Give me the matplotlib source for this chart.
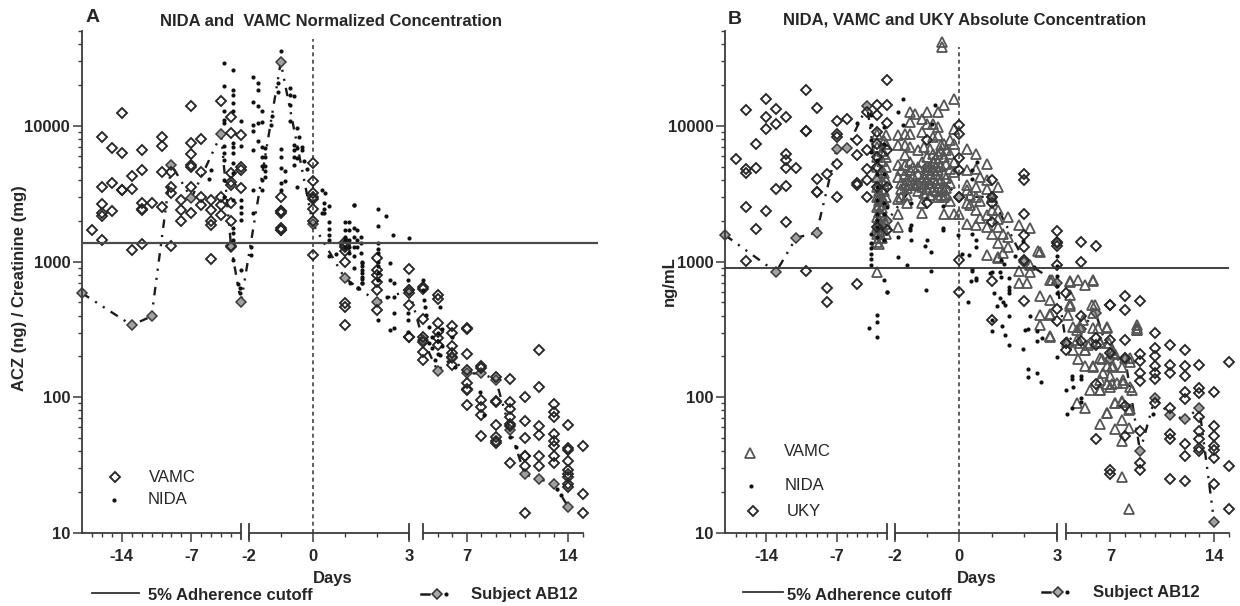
import numpy as np
import matplotlib
matplotlib.use("Agg")
import matplotlib.pyplot as plt
from matplotlib.lines import Line2D
from matplotlib.ticker import FixedLocator, FixedFormatter, LogLocator, NullFormatter

plt.rcParams['font.family'] = ['Liberation Sans', 'DejaVu Sans']
W, H = 1240, 606
INK = '#262626'
AXC = '#3c3c3c'

# ---------- Panel A data ----------
a_vamc_days = [-17, -16, -15, -14, -13, -12, -11, -10, -9, -8, -7, -6, -5, -4, -3, -2, -1, 0, 1, 2, 3, 4, 5, 6, 7, 8, 9, 10, 11, 12, 13, 14, 15]
a_vamc_vals = [
    [1710], [8250, 3530, 2660, 2270, 2150, 1430], [6920, 3820, 2340], [12400, 6300, 3370, 3370],
    [4240, 3410, 1220], [6650, 4740, 2690, 2430, 2400, 1340], [2690], [8250, 7050, 4550, 2510],
    [4600, 3570, 3190, 1300], [2850, 2400, 2000], [13900, 7450, 6220, 5160, 5010, 3570, 2270],
    [8020, 4550, 3010, 2620], [2850, 2400, 2000, 1860, 1050], [15300, 3010, 2620, 2210],
    [11700, 8930, 4480, 3890, 3670, 2690, 2000, 1300], [8580, 5010, 4740, 3470],
    [3010, 2340, 2340, 2270, 1760, 1710, 1700],
    [5310, 3900, 3200, 3000, 2900, 2430, 2000, 1120],
    [1400, 1326, 1280, 1200, 1000, 493, 461, 341], [1058, 868, 800, 712, 618, 440],
    [878, 618, 584, 479, 280, 277], [654, 625, 376, 280, 257, 217, 188],
    [568, 528, 351, 305, 272, 243], [335, 300, 239, 211, 199, 173],
    [322, 317, 208, 159, 127, 116, 113, 88], [171, 163, 96, 85, 74, 52],
    [142, 94, 93, 62, 51, 48, 46], [137, 93, 82, 71, 64, 61, 33],
    [101, 67, 50, 37, 37, 31, 14], [223, 119, 61, 53, 37, 31], [89, 78, 72, 54, 48, 44, 37, 33],
    [62, 42, 41, 34, 29, 27, 26, 23, 22], [44, 19.5, 14]]
a_nida_days = [-5.25, -5.05, -3.75, -2.8, -2, -2.3, -2.15, -1.93, -1.85, -1.72, -1.6, -1.48, -1.31, -1.26, -1.09, -1.0, -0.86, -0.72, -0.7, -0.6, -0.5, -0.42, -0.34, -0.26, -0.18, 0.29, 0.36, 0.39, 0.52, 0.72, 1.0, 1.14, 1.17, 1.27, 1.28, 1.38, 1.41, 1.5, 1.52, 2.03, 2.27, 2.3, 2.4, 2.5, 2.53, 2.97, 3.0, 4.0, 4.05, 4.12, 4.2, 4.4, 4.6, 4.83, 5.0, 5.17, 5.3, 6.0, 6.2, 7.9, 8.2, 9.97, 10.38, 13.2, 13.5]
a_nida_vals = [
    [4060], [4740], [29000, 19800, 12800, 11100, 10500, 7120, 6290, 5620, 4000, 3010],
    [25900, 18400, 16900, 14700, 12800, 7450, 7040, 6290, 5310, 4480, 2850, 1760, 1620, 1450, 1020],
    [10800, 7120, 2850, 2540, 2270, 2030, 870], [680], [590, 640], [1290, 1120],
    [22800, 15100, 10200, 9100, 6650, 3370, 2270], [20600, 18400, 13900, 10500, 7670],
    [12800, 10600, 7040, 5940, 5070, 4000, 3370], [6840, 5940, 5020, 4610, 4230], [10200], [11800],
    [20600, 17700], [35700, 6730, 5940, 4870, 3780, 3370], [4610, 3950], [10800], [19000, 16900, 14300],
    [16600, 7240, 6650, 5940, 5160], [9600, 6840, 5770, 3530], [8250], [7040, 6650], [5550], [4790],
    [3370, 2270], [2690, 2430, 2270], [3190], [2570, 1970, 1730, 1570, 1450, 1090], [1140],
    [1970, 1710, 1530, 1450, 1290], [1970, 1710, 1450, 1290, 1150], [690],
    [2620, 1760, 1530, 1290, 1090, 890], [2620], [1710, 1450, 1290], [640, 636], [1530, 1370, 1150],
    [1000, 970, 920, 868, 820, 775, 750, 692, 690], [2430, 1830, 1365, 1230, 1150, 1000, 920, 820, 730, 371],
    [2170], [552], [970, 730, 313], [1570], [692, 552, 416, 322], [730, 416, 371, 305], [1490],
    [730, 620], [522], [466], [404], [330, 250], [280, 230], [188], [300, 260, 210], [466, 205], [320, 240],
    [280], [168], [110], [74], [51], [43], [21], [19]]
a_subject_days = [-18, -13, -11, -9, -7, -4, -3, -2, -1, 0, 1, 2, 3, 4, 5, 6, 7, 8, 9, 10, 11, 12, 13, 14]
a_subject_vals = [585, 340, 395, 5160, 2930, 8680, 1290, 500, 29400, 1900, 754, 507, 618, 265, 157, 195, 150, 150, 135, 57, 27, 25, 23, 15.5]
a_cutoff = 1380

# ---------- Panel B data ----------
b_vamc_days = [-3, -2.1, -1.88, -1.67, -1.51, -1.36, -1.16, -0.99, -0.8, -0.65, -0.54, -0.47, -0.18, 0, 0.22, 0.51, 0.84, 1.2, 1.5, 1.82, 2.07, 2.17, 2.43, 2.48, 2.79, 2.84, 4.16, 4.27, 4.72, 4.8, 4.95, 5.17, 5.29, 5.63, 5.85, 5.96, 6.19, 6.3, 6.53, 6.75, 6.8, 6.87, 6.98, 7.2, 7.3, 7.43, 7.77, 7.88, 8.0, 8.27, 8.33, 8.79]
b_vamc_vals = [
    [8780, 7000, 5910, 4990, 4210, 3550, 3000, 2530, 2130, 1800, 1610, 1400, 838],
    [8530, 7410, 5910, 4990, 3980, 3000, 1900, 1610], [8530, 7200, 5130, 4200, 2910, 2260, 1800],
    [8780, 7200, 6080, 5130, 4450, 3650], [12700, 10700, 8780, 7000, 5430, 4710, 3980, 3650], [12300, 3650],
    [11300, 9030, 5430, 4090, 3550, 2680, 2290], [12700, 10400, 5910, 4710, 3980, 3450],
    [10400, 8300, 6250, 5430, 4710, 4090, 3360], [12700, 9800, 8530, 6250, 5430, 4710, 4090, 3550, 2990],
    [41600, 38200], [14200, 7410, 5910, 4450, 3360, 2990, 2260], [15900, 9560, 7410, 5430, 4580, 2260], [2260],
    [6810, 4710, 3650, 3360, 2680, 1900], [6250, 4850, 3550, 2990, 2390, 1850],
    [5280, 3980, 3450, 2200, 1800, 1110], [3550, 2390, 2070, 1800, 1360, 1080, 1060], [2130, 1520, 1280],
    [1850, 850, 696], [696], [1760, 940, 840], [1190], [1180, 555, 407, 343], [737, 525, 407, 281], [728],
    [407], [716, 571, 469], [315, 91], [737], [251], [373], [677, 224, 169, 83], [251], [716, 418, 324, 169],
    [482], [324], [251, 195, 114, 64], [151], [324, 169], [76], [251], [143, 120], [212, 169], [91, 58], [128],
    [94, 68, 48, 26], [128], [195], [81, 59, 15], [195, 120], [343, 324, 315]]
b_vamc_dense_days = [-2.8, -2.5, -2.3, -1.8, -1.6, -1.42, -1.28, -1.08, -0.9, -0.72, -0.58, -0.4, -0.3, 0.33, 0.62, 1.0, 1.35, 2.79, 4.05, 4.27, 4.5, 4.72, 4.84, 4.95, 5.29, 5.5, 5.63, 5.74, 5.8, 5.85, 6.3, 6.4, 6.76, 7.09, 7.32, 7.77, 7.88, 8.33, 8.45, 8.79]
b_vamc_dense_vals = [
    [3300, 3000, 2800, 2600, 2300, 2050, 1850, 1650, 1500, 1350], [6500, 5500, 4700, 3900, 3400, 2900, 2500, 2200, 1900, 1700, 1500],
    [7800, 6200, 4500, 3700, 3300, 2800], [4700, 3800, 3400, 3000], [4000, 3500, 3100, 2700],
    [5000, 4300, 3700], [6600, 5000, 4400, 3800, 3300], [7000, 4200, 3700, 3200], [6800, 5000, 4400, 3800, 3100],
    [5800, 5000, 4400, 3800, 3300], [7200, 6500, 5100, 4000, 3400, 3100], [6600, 5200, 4100, 3500, 3100], [7900, 6200, 4800, 3800, 2800],
    [3100, 2600], [4200, 2800, 2100], [3000, 2400, 1600], [1600, 1150],
    [414, 279], [254], [708, 490], [330, 222], [263], [193], [330], [222], [241], [113], [476], [728], [167],
    [254, 133, 113], [193], [330, 126, 76], [222, 167, 126], [210, 90], [167, 93], [133], [182, 82], [113], [312]]
b_uky_days = [-17, -16, -15, -14, -13, -12, -11, -10, -9, -8, -7, -6, -5, -4, -3, -2, -1, 0, 1, 2, 3, 4, 5, 6, 7, 8, 9, 10, 11, 12, 13, 14, 15]
b_uky_vals = [
    [5740], [13000, 4850, 4500, 2530, 1010], [7320, 4900, 1750], [15900, 11650, 9560, 2350],
    [13400, 10300, 3450], [11650, 6180, 5580, 4900, 3590, 1960], [4900], [18300, 9130, 9130, 852],
    [13650, 4090, 3260, 3260], [4450, 634, 500], [10900, 8780, 8300, 5280, 3000], [11300],
    [7930, 6150, 3800, 3690, 678], [12700, 6620, 4850, 3980, 3000],
    [14200, 11980, 9030, 7410, 5910, 4990, 3550, 1800], [21700, 14200, 10500, 6620, 3550, 1700],
    [7930, 2680], [10100, 8780, 5810, 4710, 2990, 1020, 598], [3980, 2990, 2680, 1960, 716, 373],
    [4450, 3980, 2260, 1560, 1280, 1020, 510], [1670, 1400, 1370, 1310, 950, 450, 363], [587, 251, 224],
    [1390, 990, 400, 260], [1310, 274, 244, 126, 49], [482, 482, 266, 212, 29, 27],
    [555, 443, 266, 195, 86, 52], [516, 210, 184, 151, 131, 56, 33, 29],
    [298, 231, 201, 171, 151, 137, 91], [241, 174, 151, 83, 54, 49, 25],
    [224, 169, 143, 109, 97, 45, 37, 24], [174, 117, 108, 72, 56, 49, 42, 40],
    [109, 61, 52, 43.5, 41, 36, 23], [182, 31, 15]]
b_nida_days = [-3.8, -3.6, -3, -2.3, -2.05, -2, -5, -1.88, -1.75, -1.62, -1.52, -1.5, -1.06, -1.03, -1.0, -0.87, -0.85, -0.75, -0.51, -0.49, -0.03, 0.07, 0.26, 0.28, 0.37, 0.38, 0.5, 0.51, 0.53, 0.94, 0.99, 1.05, 1.15, 1.25, 1.27, 1.3, 1.33, 1.38, 1.4, 1.51, 1.71, 1.97, 2.02, 2.12, 2.17, 2.28, 2.38, 2.5, 2.53, 2.99, 3.0, 3.98, 4.1, 4.4, 4.5, 5.0, 9.9]
b_nida_vals = [
    [323], [11980, 10100, 7840, 6440, 1610, 1360, 1250, 1140, 1050, 940],
    [5580, 4450, 3550, 2830, 2250, 2020, 1800, 1520, 407, 360, 279], [9800, 7410, 4450, 2680, 2250, 1440, 730],
    [598], [2530, 600], [10500], [12700, 1520, 1080], [15900, 10100], [940], [1760, 1700], [2700, 1430, 1850],
    [1310], [620], [1430], [1170, 850], [10400], [14200], [2560], [1760, 1700], [1560], [1130], [505],
    [1110], [722], [4090, 4710, 1610, 880, 850], [754, 737], [1280, 1430], [5430], [830], [834, 373, 306],
    [587], [474], [834, 539], [770, 1020], [334], [500], [960], [482, 290], [758, 622, 587, 395, 241, 650],
    [1100], [228, 1420], [315], [162, 141, 320], [400], [910], [150, 306, 258], [129], [274], [1100], [197, 920, 780, 658, 587],
    [114], [75], [83, 143, 137], [120], [143, 137, 99, 93], [75]]
b_subject_days = [-18, -13, -11, -9, -7, -6, -4, -3, -2, -1, 0, 1, 2, 3, 4, 5, 6, 7, 8, 9, 10, 11, 12, 13, 14]
b_subject_vals = [1560, 838, 1500, 1630, 6800, 6880, 14000, 4000, 2000, 5000, 3000, 3000, 1000, 700, 250, 320, 420, 190, 190, 40, 99, 74.5, 69, 83, 12]
b_cutoff = 900

major_days = [-14, -7, -1.99, 0, 3, 7, 14]
major_text = ['-14', '-7', '-2', '0', '3', '7', '14']
minor_days = [d for d in range(-18, 16) if d not in (-18, -14, -7, -2, 0, 3, 4, 7, 14)]
decades = [10, 100, 1000, 10000]
decade_text = ['10', '100', '1000', '10000']


def expand(days, vals):
    return np.repeat(days, [len(v) for v in vals]), np.concatenate([np.asarray(v, float) for v in vals])


fig = plt.figure(figsize=(W / 100, H / 100), dpi=100)


def txt(x, y, s, **kw):
    kw.setdefault('color', INK)
    kw.setdefault('fontsize', 12)
    kw.setdefault('fontweight', 'bold')
    kw.setdefault('va', 'center')
    return fig.text(x / W, 1 - y / H, s, **kw)


def key(xs, ys, **kw):
    fig.add_artist(Line2D(np.array(xs) / W, 1 - np.array(ys) / H, transform=fig.transFigure, **kw))


def panel(left, right, xp_px, right_day, zero_top):
    ax = fig.add_axes([left / W, 1 - 533 / H, (right - left) / W, (533 - 31) / H])
    xp = np.array([-18, -2, -1.99, 3, 4, 15, 16], float)
    fp = np.array(xp_px, float)
    ax.set_xscale('function', functions=(lambda v: np.interp(v, xp, fp), lambda v: np.interp(v, fp, xp)))
    ax.set_yscale('log')
    ax.set_xlim(-18, right_day)
    ax.set_ylim(10, 50000)
    ax.patch.set_alpha(0)
    for s in ('top', 'right', 'bottom'):
        ax.spines[s].set_visible(False)
    ax.spines['left'].set_color(AXC)
    ax.spines['left'].set_linewidth(1.3)
    ax.xaxis.set_major_locator(FixedLocator(major_days))
    ax.xaxis.set_major_formatter(FixedFormatter(major_text))
    ax.xaxis.set_minor_locator(FixedLocator(minor_days))
    ax.xaxis.set_minor_formatter(NullFormatter())
    ax.yaxis.set_major_locator(FixedLocator(decades))
    ax.yaxis.set_major_formatter(FixedFormatter(decade_text))
    ax.yaxis.set_minor_locator(LogLocator(base=10, subs=np.arange(2, 10), numticks=12))
    ax.yaxis.set_minor_formatter(NullFormatter())
    ax.tick_params(which='major', length=6.5, width=1.1, color=AXC, labelsize=12, labelcolor=INK, pad=2)
    ax.tick_params(axis='x', which='major', pad=5)
    ax.tick_params(which='minor', length=3.2, width=1.0, color=AXC)
    for t in ax.get_xticklabels() + ax.get_yticklabels():
        t.set_fontweight('bold')
    base = ax.get_xaxis_transform()
    for a, b in ((-18, -2), (-1.99, 3), (4, 15)):
        ax.plot([a, b], [0, 0], transform=base, color=AXC, lw=1.3, clip_on=False, zorder=5)
    for d in (-2, -1.99, 3, 4):
        ax.plot([d, d], [-0.012, 0.018], transform=base, color=AXC, lw=1.3, clip_on=False, zorder=5)
    ax.plot([0, 0], [10, zero_top], color='#333333', lw=1.1, ls=(0, (2.6, 2.2)), zorder=1)
    return ax


dia = dict(ls='none', marker='D', ms=5.2, mfc='none', mec='#262626', mew=1.35, clip_on=False)
tri = dict(ls='none', marker='^', ms=7.8, mfc='none', mec='#555555', mew=1.3, clip_on=False)
dot = dict(ls='none', marker='o', ms=3.0, mfc='#111111', mec='#111111', mew=0, clip_on=False)
subj = dict(color='#1c1c1c', lw=1.7, ls=(0, (3.6, 3, 0.9, 3, 0.9, 3)), marker='D', ms=5.2, mfc='#a0a0a0',
            mec='#3a3a3a', mew=1.1, clip_on=False, zorder=2.5)

# ---------- Panel A ----------
axA = panel(82, 597.6, [82, 241, 249, 409, 423, 583, 597.6], 16, 43800)
axA.axhline(a_cutoff, color='#4a4a4a', lw=1.6, zorder=3)
axA.plot(a_subject_days, a_subject_vals, **subj)
axA.plot(*expand(a_vamc_days, a_vamc_vals), zorder=2.6, **dia)
axA.plot(*expand(a_nida_days, a_nida_vals), zorder=2.7, **dot)

# ---------- Panel B ----------
axB = panel(725.4, 1229, [725.4, 887.4, 894.7, 1057, 1066, 1229, 1243.7], 15, 38000)
axB.axhline(b_cutoff, color='#333333', lw=1.3, zorder=3)
axB.plot(b_subject_days, b_subject_vals, **subj)
axB.plot(*expand(b_vamc_days, b_vamc_vals), zorder=2.6, **tri)
axB.plot(*expand(b_vamc_dense_days, b_vamc_dense_vals), zorder=2.6, **tri)
axB.plot(*expand(b_uky_days, b_uky_vals), zorder=2.7, **dia)
axB.plot(*expand(b_nida_days, b_nida_vals), zorder=2.8, **dot)

# ---------- Text ----------
txt(86, 18, 'A', fontsize=14)
txt(160, 21, 'NIDA and  VAMC Normalized Concentration')
txt(728, 20, 'B', fontsize=14)
txt(783, 20, 'NIDA, VAMC and UKY Absolute Concentration')
txt(20, 288, 'ACZ (ng) / Creatinine (mg)', rotation=90, ha='center')
txt(669, 281, 'ng/mL', rotation=90, ha='center')
txt(312.5, 579, 'Days')
txt(956.5, 578, 'Days')
txt(148, 595, '5% Adherence cutoff')
txt(787, 595, '5% Adherence cutoff')
txt(471, 595, 'Subject AB12')
txt(1093, 592, 'Subject AB12')

# ---------- Keys ----------
plain = dict(fontweight='normal', fontsize=12)
txt(149, 477, 'VAMC', **plain)
txt(148, 500, 'NIDA', **plain)
key([115], [477], **dia)
key([114], [500], **dot)
txt(784, 452, 'VAMC', **plain)
txt(785, 486, 'NIDA', **plain)
txt(787, 511, 'UKY', **plain)
key([750], [453], **tri)
key([751], [486], **dot)
key([752.5], [511], **dia)
key([92, 139], [592.7, 592.7], color='#333333', lw=1.3)
key([743, 783], [592, 592], color='#333333', lw=1.3)
for x0, y0 in ((421, 594), (1042, 592)):
    key([x0, x0 + 8], [y0, y0], color='#1c1c1c', lw=1.8)
    key([x0 + 16], [y0], ls='none', marker='D', ms=5, mfc='#a8a8a8', mec='#2e2e2e', mew=1.1)
    key([x0 + 25], [y0], **dot)

fig.savefig('out.png', dpi=100, facecolor='white')
